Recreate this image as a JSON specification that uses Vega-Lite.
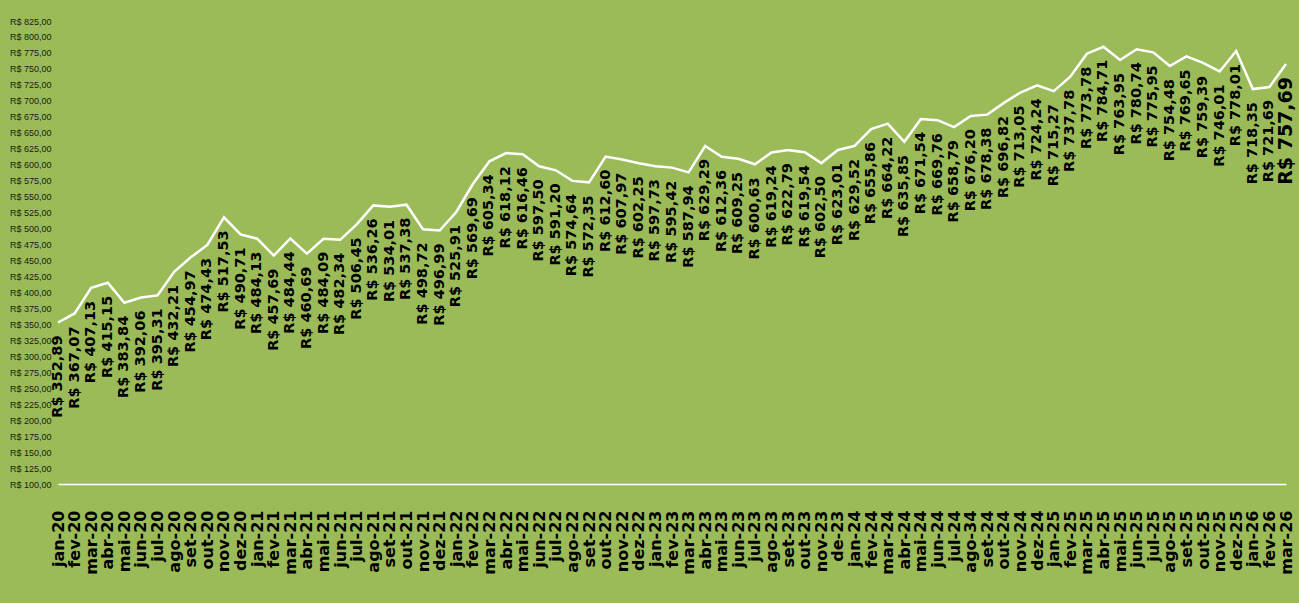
{
  "$schema": "https://vega.github.io/schema/vega-lite/v6.json",
  "width": 1228,
  "height": 463,
  "padding": {"left": 9, "top": 17, "right": 10, "bottom": 28},
  "background": "#9BBB59",
  "config": {
    "view": {"stroke": null},
    "locale": {
      "number": {"decimal": ",", "thousands": ".", "grouping": [3], "currency": ["R$ ", ""]}
    }
  },
  "data": {
    "values": [
      {"mes": "jan-20", "valor": 352.89},
      {"mes": "fev-20", "valor": 367.07},
      {"mes": "mar-20", "valor": 407.13},
      {"mes": "abr-20", "valor": 415.15},
      {"mes": "mai-20", "valor": 383.84},
      {"mes": "jun-20", "valor": 392.06},
      {"mes": "jul-20", "valor": 395.31},
      {"mes": "ago-20", "valor": 432.21},
      {"mes": "set-20", "valor": 454.97},
      {"mes": "out-20", "valor": 474.43},
      {"mes": "nov-20", "valor": 517.53},
      {"mes": "dez-20", "valor": 490.71},
      {"mes": "jan-21", "valor": 484.13},
      {"mes": "fev-21", "valor": 457.69},
      {"mes": "mar-21", "valor": 484.44},
      {"mes": "abr-21", "valor": 460.69},
      {"mes": "mai-21", "valor": 484.09},
      {"mes": "jun-21", "valor": 482.34},
      {"mes": "jul-21", "valor": 506.45},
      {"mes": "ago-21", "valor": 536.26},
      {"mes": "set-21", "valor": 534.01},
      {"mes": "out-21", "valor": 537.38},
      {"mes": "nov-21", "valor": 498.72},
      {"mes": "dez-21", "valor": 496.99},
      {"mes": "jan-22", "valor": 525.91},
      {"mes": "fev-22", "valor": 569.69},
      {"mes": "mar-22", "valor": 605.34},
      {"mes": "abr-22", "valor": 618.12},
      {"mes": "mai-22", "valor": 616.46},
      {"mes": "jun-22", "valor": 597.50},
      {"mes": "jul-22", "valor": 591.20},
      {"mes": "ago-22", "valor": 574.64},
      {"mes": "set-22", "valor": 572.35},
      {"mes": "out-22", "valor": 612.60},
      {"mes": "nov-22", "valor": 607.97},
      {"mes": "dez-22", "valor": 602.25},
      {"mes": "jan-23", "valor": 597.73},
      {"mes": "fev-23", "valor": 595.42},
      {"mes": "mar-23", "valor": 587.94},
      {"mes": "abr-23", "valor": 629.29},
      {"mes": "mai-23", "valor": 612.36},
      {"mes": "jun-23", "valor": 609.25},
      {"mes": "jul-23", "valor": 600.63},
      {"mes": "ago-23", "valor": 619.24},
      {"mes": "set-23", "valor": 622.79},
      {"mes": "out-23", "valor": 619.54},
      {"mes": "nov-23", "valor": 602.50},
      {"mes": "de-23", "valor": 623.01},
      {"mes": "jan-24", "valor": 629.52},
      {"mes": "fev-24", "valor": 655.86},
      {"mes": "mar-24", "valor": 664.22},
      {"mes": "abr-24", "valor": 635.85},
      {"mes": "mai-24", "valor": 671.54},
      {"mes": "jun-24", "valor": 669.76},
      {"mes": "jul-24", "valor": 658.79},
      {"mes": "ago-34", "valor": 676.20},
      {"mes": "set-24", "valor": 678.38},
      {"mes": "out-24", "valor": 696.82},
      {"mes": "nov-24", "valor": 713.05},
      {"mes": "dez-24", "valor": 724.24},
      {"mes": "jan-25", "valor": 715.27},
      {"mes": "fev-25", "valor": 737.78},
      {"mes": "mar-25", "valor": 773.78},
      {"mes": "abr-25", "valor": 784.71},
      {"mes": "mai-25", "valor": 763.95},
      {"mes": "jun-25", "valor": 780.74},
      {"mes": "jul-25", "valor": 775.95},
      {"mes": "ago-25", "valor": 754.48},
      {"mes": "set-25", "valor": 769.65},
      {"mes": "out-25", "valor": 759.39},
      {"mes": "nov-25", "valor": 746.01},
      {"mes": "dez-25", "valor": 778.01},
      {"mes": "jan-26", "valor": 718.35},
      {"mes": "fev-26", "valor": 721.69},
      {"mes": "mar-26", "valor": 757.69}
    ]
  },
  "encoding": {
    "x": {
      "field": "mes",
      "type": "ordinal",
      "sort": null,
      "scale": {"type": "point", "padding": 0},
      "axis": {
        "title": null,
        "labelAngle": 270,
        "labelFont": "DejaVu Sans",
        "labelFontWeight": "bold",
        "labelFontSize": 16,
        "labelColor": "#000000",
        "labelPadding": 26,
        "ticks": false,
        "domainColor": "#FFFFFF",
        "domainWidth": 1.5,
        "grid": false
      }
    },
    "y": {
      "field": "valor",
      "type": "quantitative",
      "scale": {"domain": [100, 825], "nice": false, "zero": false},
      "axis": {
        "title": null,
        "values": [100,125,150,175,200,225,250,275,300,325,350,375,400,425,450,475,500,525,550,575,600,625,650,675,700,725,750,775,800,825],
        "format": "$,.2f",
        "labelFont": "Liberation Sans",
        "labelFontSize": 9,
        "labelColor": "#1a1a1a",
        "labelPadding": 7,
        "ticks": false,
        "domain": false,
        "grid": false
      }
    }
  },
  "layer": [
    {
      "mark": {"type": "line", "color": "#FFFFFF", "strokeWidth": 2.5}
    },
    {
      "mark": {
        "type": "text",
        "angle": 270,
        "align": "right",
        "baseline": "middle",
        "dx": -13,
        "font": "DejaVu Sans",
        "fontWeight": "bold",
        "color": "#000000"
      },
      "encoding": {
        "text": {"field": "valor", "type": "quantitative", "format": "$,.2f"},
        "size": {
          "condition": {"test": "datum.mes === 'mar-26'", "value": 19},
          "value": 14.5
        }
      }
    }
  ]
}
